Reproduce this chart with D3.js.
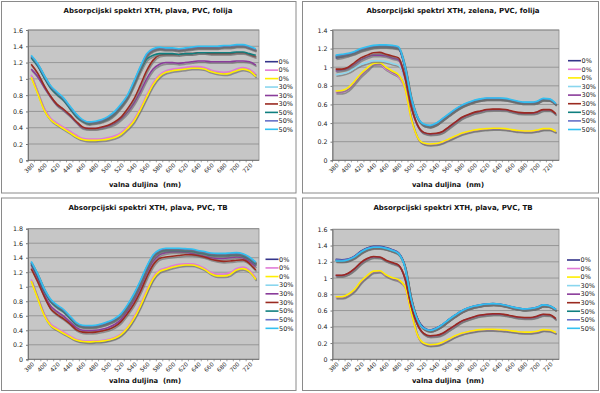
<!DOCTYPE html>
<html>
<head>
<meta charset="utf-8">
<script src="https://cdnjs.cloudflare.com/ajax/libs/d3/7.8.5/d3.min.js"></script>
<style>
  body { margin: 0; background: #fff; }
  svg { display: block; font-family: "DejaVu Sans", Verdana, sans-serif; }
</style>
</head>
<body>
<div id="chart"></div>
<script>
// categories (nm)
var wavelengths = [380,390,400,410,420,430,440,450,460,470,480,490,500,510,520,530,540,550,560,570,580,590,600,610,620,630,640,650,660,670,680,690,700,710,720,730];
var xTickLabels = [380,400,420,440,460,480,500,520,540,560,580,600,620,640,660,680,700,720];
var legendNames = ["0%","0%","0%","30%","30%","30%","50%","50%","50%"];
var lineColors = ["#34348a","#e07ad6","#ffee00","#8ad6ee","#8a3c9a","#9a2a20","#0f7f7f","#6670c8","#33c0f0"];

// panel 1: plava, PVC, folija
var p1_navy0   = [1.27,1.17,1.03,0.90,0.82,0.75,0.65,0.55,0.49,0.46,0.47,0.49,0.52,0.58,0.67,0.78,0.95,1.13,1.29,1.35,1.37,1.36,1.36,1.35,1.36,1.37,1.38,1.38,1.38,1.38,1.39,1.39,1.40,1.40,1.38,1.35];
var p1_pink0   = [1.05,0.84,0.64,0.52,0.46,0.41,0.36,0.31,0.27,0.26,0.26,0.265,0.28,0.30,0.34,0.41,0.50,0.64,0.80,0.95,1.05,1.10,1.12,1.13,1.14,1.15,1.15,1.14,1.11,1.09,1.08,1.09,1.12,1.14,1.12,1.06];
var p1_yellow0 = [1.02,0.82,0.62,0.50,0.44,0.39,0.34,0.29,0.255,0.245,0.245,0.25,0.26,0.28,0.32,0.39,0.48,0.62,0.78,0.93,1.03,1.08,1.10,1.11,1.12,1.13,1.13,1.12,1.09,1.07,1.06,1.07,1.10,1.12,1.10,1.03];
var p1_lcyan30 = [1.28,1.18,1.04,0.91,0.83,0.76,0.66,0.56,0.49,0.46,0.47,0.49,0.53,0.59,0.68,0.79,0.96,1.14,1.30,1.36,1.38,1.37,1.37,1.36,1.37,1.38,1.39,1.39,1.39,1.39,1.40,1.40,1.41,1.41,1.39,1.36];
var p1_purple30= [1.12,1.03,0.90,0.78,0.68,0.62,0.55,0.47,0.40,0.39,0.39,0.40,0.42,0.45,0.51,0.59,0.70,0.84,1.00,1.12,1.18,1.20,1.20,1.19,1.20,1.21,1.22,1.22,1.21,1.21,1.21,1.21,1.22,1.22,1.21,1.17];
var p1_red30   = [1.18,1.07,0.92,0.79,0.69,0.63,0.56,0.48,0.41,0.39,0.39,0.41,0.43,0.47,0.53,0.63,0.75,0.92,1.10,1.23,1.29,1.30,1.30,1.30,1.31,1.31,1.32,1.32,1.31,1.31,1.31,1.31,1.32,1.32,1.30,1.27];
var p1_teal50  = [1.26,1.16,1.02,0.89,0.81,0.74,0.64,0.54,0.48,0.45,0.46,0.48,0.51,0.57,0.66,0.77,0.93,1.10,1.24,1.29,1.31,1.31,1.31,1.30,1.31,1.31,1.32,1.32,1.32,1.32,1.32,1.32,1.33,1.33,1.31,1.29];
var p1_blue50  = [1.28,1.18,1.04,0.91,0.83,0.76,0.66,0.56,0.49,0.47,0.47,0.49,0.53,0.59,0.68,0.79,0.96,1.14,1.30,1.36,1.38,1.37,1.37,1.36,1.37,1.38,1.39,1.39,1.39,1.39,1.40,1.40,1.41,1.41,1.39,1.36];
var p1_cyan50  = [1.29,1.19,1.05,0.92,0.84,0.77,0.67,0.57,0.50,0.47,0.48,0.50,0.54,0.60,0.69,0.80,0.97,1.15,1.31,1.37,1.39,1.38,1.38,1.37,1.38,1.39,1.40,1.40,1.40,1.40,1.41,1.41,1.42,1.42,1.40,1.37];

// panel 2: zelena, PVC, folija
var p2_navy0   = [1.10,1.11,1.13,1.15,1.18,1.20,1.215,1.22,1.22,1.215,1.20,1.00,0.66,0.46,0.38,0.365,0.39,0.44,0.49,0.54,0.58,0.61,0.635,0.65,0.66,0.66,0.66,0.655,0.64,0.625,0.615,0.615,0.625,0.655,0.65,0.60];
var p2_pink0   = [0.73,0.73,0.76,0.83,0.91,0.97,1.03,1.03,0.98,0.94,0.90,0.77,0.445,0.245,0.18,0.17,0.175,0.195,0.225,0.255,0.285,0.305,0.32,0.33,0.335,0.34,0.34,0.335,0.325,0.315,0.31,0.31,0.32,0.335,0.335,0.305];
var p2_yellow0 = [0.745,0.75,0.78,0.85,0.93,0.99,1.04,1.05,1.00,0.96,0.92,0.78,0.45,0.25,0.185,0.175,0.18,0.20,0.23,0.26,0.29,0.31,0.325,0.335,0.34,0.345,0.345,0.34,0.33,0.32,0.315,0.315,0.325,0.34,0.34,0.31];
var p2_lcyan30 = [0.92,0.93,0.95,0.99,1.03,1.05,1.07,1.07,1.06,1.04,1.02,0.88,0.62,0.45,0.38,0.37,0.395,0.445,0.495,0.545,0.585,0.615,0.64,0.655,0.665,0.665,0.665,0.66,0.645,0.63,0.62,0.62,0.63,0.66,0.655,0.605];
var p2_purple30= [0.96,0.97,0.99,1.03,1.08,1.11,1.13,1.13,1.12,1.10,1.08,0.89,0.575,0.375,0.295,0.28,0.285,0.305,0.355,0.405,0.455,0.485,0.51,0.525,0.54,0.545,0.545,0.54,0.525,0.51,0.505,0.505,0.515,0.54,0.54,0.495];
var p2_red30   = [0.98,0.98,1.00,1.05,1.10,1.13,1.155,1.16,1.14,1.12,1.10,0.90,0.58,0.38,0.30,0.285,0.29,0.31,0.36,0.41,0.46,0.49,0.515,0.53,0.545,0.55,0.55,0.545,0.53,0.515,0.51,0.51,0.52,0.545,0.545,0.50];
var p2_teal50  = [1.115,1.125,1.135,1.155,1.185,1.205,1.22,1.225,1.225,1.22,1.205,1.005,0.665,0.46,0.38,0.365,0.39,0.44,0.49,0.54,0.58,0.61,0.635,0.65,0.66,0.66,0.66,0.655,0.64,0.625,0.615,0.615,0.625,0.655,0.65,0.60];
var p2_blue50  = [1.12,1.13,1.14,1.16,1.19,1.21,1.225,1.23,1.23,1.225,1.21,1.01,0.67,0.465,0.385,0.37,0.395,0.445,0.495,0.545,0.585,0.615,0.64,0.655,0.665,0.665,0.665,0.66,0.645,0.63,0.62,0.62,0.63,0.66,0.655,0.605];
var p2_cyan50  = [1.13,1.14,1.15,1.17,1.20,1.22,1.235,1.24,1.24,1.235,1.22,1.02,0.68,0.47,0.39,0.375,0.40,0.45,0.50,0.55,0.59,0.62,0.645,0.66,0.67,0.67,0.67,0.665,0.65,0.635,0.625,0.625,0.635,0.665,0.66,0.61];

// panel 3: plava, PVC, TB
var p3_navy0   = [1.33,1.16,0.96,0.81,0.73,0.67,0.58,0.49,0.455,0.45,0.455,0.475,0.505,0.545,0.615,0.73,0.88,1.06,1.26,1.42,1.49,1.51,1.51,1.51,1.505,1.50,1.48,1.465,1.445,1.44,1.44,1.445,1.45,1.435,1.39,1.32];
var p3_pink0   = [1.10,0.86,0.63,0.49,0.43,0.38,0.325,0.275,0.255,0.25,0.255,0.26,0.275,0.30,0.35,0.44,0.58,0.75,0.95,1.13,1.23,1.26,1.29,1.31,1.315,1.315,1.295,1.255,1.20,1.175,1.175,1.195,1.25,1.27,1.23,1.12];
var p3_yellow0 = [1.08,0.84,0.61,0.47,0.41,0.36,0.31,0.265,0.245,0.24,0.245,0.25,0.265,0.29,0.34,0.43,0.56,0.73,0.93,1.11,1.21,1.24,1.27,1.29,1.30,1.30,1.28,1.24,1.18,1.15,1.15,1.17,1.23,1.25,1.21,1.10];
var p3_lcyan30 = [1.34,1.17,0.97,0.82,0.74,0.68,0.59,0.50,0.46,0.46,0.465,0.485,0.515,0.555,0.625,0.745,0.895,1.075,1.275,1.435,1.505,1.525,1.525,1.525,1.52,1.515,1.495,1.48,1.46,1.455,1.455,1.46,1.465,1.45,1.405,1.335];
var p3_purple30= [1.30,1.12,0.90,0.74,0.66,0.60,0.52,0.44,0.40,0.395,0.40,0.415,0.44,0.48,0.55,0.67,0.81,0.99,1.19,1.35,1.44,1.47,1.48,1.48,1.475,1.46,1.44,1.42,1.40,1.39,1.39,1.40,1.41,1.40,1.35,1.28];
var p3_red30   = [1.25,1.07,0.87,0.70,0.62,0.56,0.49,0.41,0.375,0.37,0.375,0.39,0.41,0.45,0.52,0.63,0.76,0.93,1.13,1.30,1.39,1.41,1.42,1.43,1.44,1.44,1.43,1.41,1.38,1.36,1.35,1.355,1.365,1.37,1.32,1.23];
var p3_teal50  = [1.32,1.15,0.95,0.80,0.72,0.66,0.57,0.48,0.45,0.445,0.45,0.47,0.50,0.54,0.61,0.72,0.87,1.05,1.25,1.41,1.48,1.50,1.50,1.50,1.495,1.49,1.47,1.455,1.435,1.43,1.43,1.435,1.44,1.425,1.38,1.31];
var p3_blue50  = [1.34,1.17,0.97,0.82,0.74,0.68,0.59,0.50,0.46,0.455,0.46,0.48,0.51,0.55,0.62,0.74,0.89,1.07,1.27,1.43,1.50,1.52,1.52,1.52,1.515,1.51,1.49,1.475,1.455,1.45,1.45,1.455,1.46,1.445,1.40,1.33];
var p3_cyan50  = [1.35,1.18,0.98,0.83,0.75,0.69,0.60,0.51,0.47,0.465,0.47,0.49,0.52,0.56,0.63,0.75,0.90,1.08,1.28,1.44,1.51,1.53,1.53,1.53,1.525,1.52,1.50,1.485,1.465,1.46,1.46,1.465,1.47,1.455,1.41,1.34];

// panel 4: plava, PVC, TB (right)
var p4_navy0   = [1.23,1.225,1.235,1.27,1.33,1.37,1.39,1.39,1.375,1.35,1.31,1.15,0.75,0.50,0.39,0.36,0.385,0.43,0.49,0.545,0.595,0.63,0.655,0.67,0.68,0.685,0.68,0.665,0.645,0.63,0.62,0.625,0.64,0.67,0.66,0.615];
var p4_pink0   = [0.76,0.76,0.79,0.85,0.95,1.02,1.075,1.08,1.03,0.995,0.97,0.89,0.575,0.295,0.195,0.175,0.18,0.205,0.245,0.285,0.315,0.335,0.35,0.36,0.365,0.365,0.36,0.355,0.345,0.335,0.33,0.33,0.34,0.36,0.355,0.325];
var p4_yellow0 = [0.77,0.77,0.80,0.86,0.96,1.03,1.085,1.09,1.04,1.005,0.98,0.90,0.58,0.30,0.20,0.18,0.185,0.21,0.25,0.29,0.32,0.34,0.355,0.365,0.37,0.37,0.365,0.36,0.35,0.34,0.335,0.335,0.345,0.365,0.36,0.33];
var p4_lcyan30 = [1.215,1.21,1.22,1.255,1.315,1.355,1.375,1.375,1.36,1.335,1.295,1.135,0.738,0.488,0.38,0.353,0.378,0.425,0.485,0.54,0.59,0.625,0.65,0.665,0.675,0.68,0.675,0.66,0.64,0.625,0.615,0.62,0.635,0.665,0.655,0.61];
var p4_purple30= [1.03,1.03,1.055,1.11,1.185,1.235,1.26,1.255,1.215,1.185,1.155,0.995,0.655,0.425,0.315,0.285,0.29,0.315,0.365,0.415,0.465,0.495,0.52,0.54,0.55,0.555,0.555,0.545,0.53,0.515,0.51,0.51,0.525,0.55,0.545,0.495];
var p4_red30   = [1.035,1.035,1.06,1.115,1.19,1.24,1.265,1.26,1.22,1.19,1.16,1.00,0.66,0.43,0.32,0.29,0.295,0.32,0.37,0.42,0.47,0.50,0.525,0.545,0.555,0.56,0.56,0.55,0.535,0.52,0.515,0.515,0.53,0.555,0.55,0.50];
var p4_teal50  = [1.22,1.215,1.225,1.26,1.32,1.36,1.38,1.38,1.365,1.34,1.30,1.14,0.742,0.492,0.382,0.355,0.38,0.425,0.485,0.54,0.59,0.625,0.65,0.665,0.675,0.68,0.675,0.66,0.64,0.625,0.615,0.62,0.635,0.665,0.655,0.61];
var p4_blue50  = [1.225,1.22,1.23,1.265,1.325,1.365,1.385,1.385,1.37,1.345,1.305,1.145,0.745,0.495,0.385,0.357,0.382,0.428,0.488,0.543,0.592,0.627,0.652,0.667,0.677,0.682,0.677,0.662,0.642,0.627,0.617,0.622,0.637,0.667,0.657,0.612];
var p4_cyan50  = [1.21,1.21,1.225,1.26,1.32,1.36,1.38,1.38,1.365,1.34,1.30,1.14,0.74,0.49,0.38,0.355,0.38,0.43,0.49,0.545,0.595,0.63,0.655,0.67,0.68,0.685,0.68,0.665,0.645,0.63,0.62,0.625,0.64,0.67,0.66,0.615];

var yTicks16 = [0,0.2,0.4,0.6,0.8,1,1.2,1.4,1.6];
var yTicks14 = [0,0.2,0.4,0.6,0.8,1,1.2,1.4];
var yTicks18 = [0,0.2,0.4,0.6,0.8,1,1.2,1.4,1.6,1.8];

var width = 600, height = 393;
var svg = d3.select("#chart").append("svg")
    .attr("width", width)
    .attr("height", height);

var panels = [
  {title: "Absorpcijski spektri XTH, plava, PVC, folija", ticks: yTicks16,
   series: [p1_navy0,p1_pink0,p1_yellow0,p1_lcyan30,p1_purple30,p1_red30,p1_teal50,p1_blue50,p1_cyan50],
   box: [1.5,1.5,294.5,191.5], plot: [28,30,259,160.3], titleX: 148, xTitleX: 145, legX: 265, legY: 61.7, legStep: 8.45},
  {title: "Absorpcijski spektri XTH, zelena, PVC, folija", ticks: yTicks14,
   series: [p2_navy0,p2_pink0,p2_yellow0,p2_lcyan30,p2_purple30,p2_red30,p2_teal50,p2_blue50,p2_cyan50],
   box: [302.5,1.5,296,191.5], plot: [332.5,30,559,160.3], titleX: 453, xTitleX: 448, legX: 568, legY: 60.7, legStep: 8.6},
  {title: "Absorpcijski spektri XTH, plava, PVC, TB", ticks: yTicks18,
   series: [p3_navy0,p3_pink0,p3_yellow0,p3_lcyan30,p3_purple30,p3_red30,p3_teal50,p3_blue50,p3_cyan50],
   box: [1.5,198,294.5,192.5], plot: [28,228.7,259,359.3], titleX: 148, xTitleX: 145, legX: 265.5, legY: 259.3, legStep: 8.63},
  {title: "Absorpcijski spektri XTH, plava, PVC, TB", ticks: yTicks16,
   series: [p4_navy0,p4_pink0,p4_yellow0,p4_lcyan30,p4_purple30,p4_red30,p4_teal50,p4_blue50,p4_cyan50],
   box: [302.5,198,296,192.5], plot: [332.5,229.3,559,359.3], titleX: 453, xTitleX: 448, legX: 567, legY: 260, legStep: 8.54}
];

panels.forEach(drawPanel);

function drawPanel(p) {
  var g = svg.append("g");
  var left = p.plot[0], top = p.plot[1], right = p.plot[2], bottom = p.plot[3];

  // chart box
  g.append("rect")
    .attr("x", p.box[0]).attr("y", p.box[1])
    .attr("width", p.box[2]).attr("height", p.box[3])
    .attr("fill", "#fff").attr("stroke", "#8a8a8a").attr("stroke-width", 1);

  var x = d3.scaleBand().domain(wavelengths).range([left, right]).padding(0);
  var y = d3.scaleLinear().domain([0, p.ticks[p.ticks.length - 1]]).range([bottom, top]);
  var cx = d => x(d) + x.bandwidth() / 2;

  g.append("rect")
    .attr("x", left).attr("y", top)
    .attr("width", right - left).attr("height", bottom - top)
    .attr("fill", "#c6c6c6").attr("stroke", "#8a8a8a").attr("stroke-width", 0.8);

  // gridlines
  g.append("g").selectAll("line")
    .data(p.ticks.slice(1))
    .join("line")
      .attr("x1", left).attr("x2", right)
      .attr("y1", d => y(d)).attr("y2", d => y(d))
      .attr("stroke", "#8c8c8c").attr("stroke-width", 0.8);

  // y axis
  g.append("g")
    .attr("transform", `translate(${left},0)`)
    .call(d3.axisLeft(y).tickValues(p.ticks).tickFormat(d => +d.toFixed(1)).tickSize(2).tickPadding(3))
    .call(a => a.select(".domain").attr("stroke", "#777"))
    .call(a => a.selectAll(".tick line").attr("stroke", "#777"))
    .call(a => a.selectAll("text").attr("font-size", 6.3).attr("fill", "#222")
         .attr("font-family", "DejaVu Sans, sans-serif"));

  // x axis: tick marks on category edges, labels every 20 nm
  g.append("line")
    .attr("x1", left).attr("x2", right).attr("y1", bottom).attr("y2", bottom)
    .attr("stroke", "#666").attr("stroke-width", 0.8);
  g.append("g").selectAll("line")
    .data(wavelengths)
    .join("line")
      .attr("x1", d => x(d)).attr("x2", d => x(d))
      .attr("y1", bottom).attr("y2", bottom + 2)
      .attr("stroke", "#666").attr("stroke-width", 0.6);
  g.append("g").selectAll("text")
    .data(xTickLabels)
    .join("text")
      .attr("transform", d => `translate(${cx(d) + 2},${bottom + 4}) rotate(-45)`)
      .attr("text-anchor", "end")
      .attr("dy", "0.35em")
      .attr("font-size", 5.8)
      .attr("fill", "#222")
      .text(d => d);

  // series, each with its grey drop shadow
  var line = d3.line()
    .x((d, i) => cx(wavelengths[i]))
    .y(d => y(d))
    .curve(d3.curveMonotoneX);
  p.series.forEach(function(s, k) {
    g.append("path")
      .attr("d", line(s))
      .attr("fill", "none")
      .attr("stroke", "#6e6e6e").attr("stroke-opacity", 0.65)
      .attr("stroke-width", 1.6)
      .attr("transform", "translate(0.8,1.5)");
    g.append("path")
      .attr("d", line(s))
      .attr("fill", "none")
      .attr("stroke", lineColors[k])
      .attr("stroke-width", 1.6)
      .attr("stroke-linejoin", "round");
  });

  // titles
  g.append("text")
    .attr("x", p.titleX).attr("y", p.box[1] + 11.5)
    .attr("text-anchor", "middle")
    .attr("font-size", 7).attr("font-weight", "bold").attr("fill", "#111")
    .text(p.title);
  g.append("text")
    .attr("x", p.xTitleX).attr("y", p.box[1] + 185)
    .attr("text-anchor", "middle")
    .attr("font-size", 6.8).attr("font-weight", "bold").attr("fill", "#111")
    .attr("xml:space", "preserve")
    .text("valna duljina  (nm)");

  // legend
  var leg = g.append("g").selectAll("g")
    .data(legendNames)
    .join("g")
      .attr("transform", (d, i) => `translate(${p.legX},${p.legY + i * p.legStep})`);
  leg.append("line")
    .attr("x1", 0).attr("x2", 13)
    .attr("stroke", (d, i) => lineColors[i]).attr("stroke-width", 1.6);
  leg.append("text")
    .attr("x", 13.5).attr("dy", "0.35em")
    .attr("font-size", 6.5).attr("fill", "#222")
    .text(d => d);
}
</script>
</body>
</html>
